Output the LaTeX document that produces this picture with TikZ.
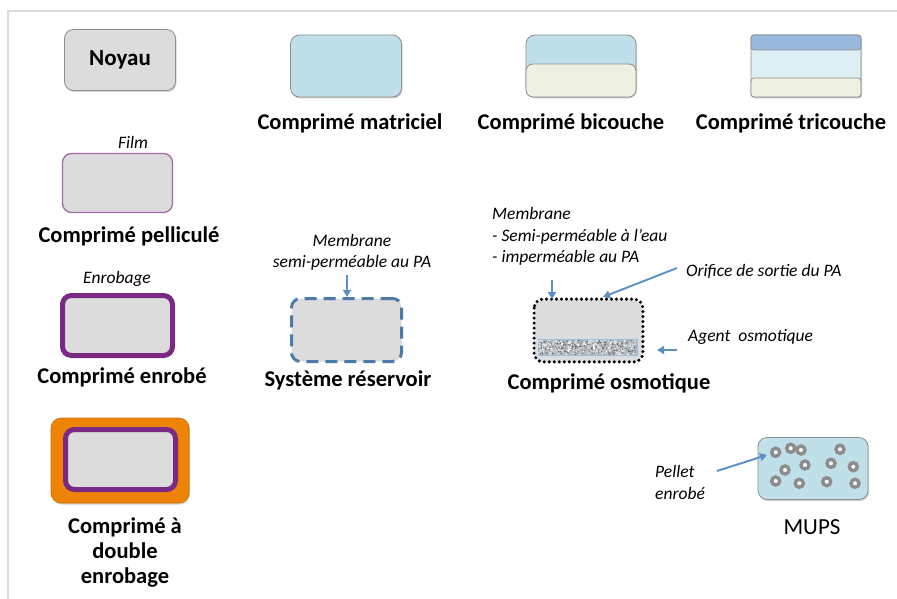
\documentclass[tikz,border=0pt]{standalone}
\usepackage{fontspec}
\setmainfont{Carlito}
\usetikzlibrary{arrows.meta,shadows}
\definecolor{coregray}{HTML}{DCDCDC}
\definecolor{edgegray}{HTML}{8E8E8E}
\definecolor{lblue}{HTML}{BFE0E9}
\definecolor{mblue}{HTML}{98B9DC}
\definecolor{pblue}{HTML}{DDEFF5}
\definecolor{cream}{HTML}{EEF0E1}
\definecolor{lpurple}{HTML}{A46AA8}
\definecolor{dpurple}{HTML}{7A2A85}
\definecolor{orng}{HTML}{EE8305}
\definecolor{dblue}{HTML}{4C7BAA}
\definecolor{arrblue}{HTML}{5D8FC7}
\definecolor{framegray}{HTML}{DADADA}
\definecolor{bandgray}{HTML}{B4B9BE}
\definecolor{ringgray}{HTML}{8C8C8C}
\begin{document}
\begin{tikzpicture}[x=1pt,y=-1pt,
  shad/.style={drop shadow={shadow xshift=1pt,shadow yshift=-1.5pt,opacity=0.3,fill=black!60}},
  tab/.style={rounded corners=9pt,inner sep=0pt,minimum width=110pt,minimum height=62pt,draw=edgegray,line width=0.8pt,fill=coregray},
  lab/.style={font=\fontsize{22.5}{25}\selectfont\bfseries,align=center,inner sep=0pt},
  ann/.style={font=\fontsize{17.5}{21.5}\selectfont\itshape,inner sep=0pt},
  arr/.style={draw=arrblue,line width=1.9pt,-{Triangle[length=7pt,width=8pt]}},
  pel/.style={circle,inner sep=0pt,minimum size=8pt,fill=white,draw=ringgray,line width=3.4pt}
]
\useasboundingbox (0,0) rectangle (897,599);
\fill[white] (0,0) rectangle (897,599);
\draw[framegray,line width=1.5pt] (8,599) -- (8,11) -- (897,11);

% Noyau
\node[tab,shad,minimum width=111pt,minimum height=61pt,font=\fontsize{23}{26}\selectfont\bfseries] (noyau) at (120,60) {Noyau};

% Comprime matriciel
\node[tab,shad,fill=lblue,minimum width=111pt,minimum height=62pt] (matr) at (346,66) {};
\node[lab] (matrl) at (350,123) {Comprimé matriciel};

% Comprime bicouche
\node[tab,shad,fill=lblue,minimum width=110pt,minimum height=62pt] (bic) at (581,66) {};
\node[tab,fill=cream,rounded corners=7pt,minimum width=110pt,minimum height=33pt] (bicb) at (581,80.5) {};
\node[lab] (bicl) at (571,123) {Comprimé bicouche};

% Comprime tricouche
\node[tab,shad,fill=pblue,rounded corners=3pt,minimum width=110pt,minimum height=62pt] (tri) at (806,66) {};
\node[tab,fill=mblue,rounded corners=3pt,minimum width=110pt,minimum height=15pt] (trit) at (806,42.5) {};
\node[tab,fill=cream,rounded corners=3pt,minimum width=110pt,minimum height=19pt] (trib) at (806,87.5) {};
\node[lab] (tril) at (791,123) {Comprimé tricouche};

% Comprime pellicule
\node[ann] (film) at (133,142) {Film};
\node[tab,draw=lpurple,line width=1.3pt,minimum width=110pt,minimum height=59pt] (pell) at (117.5,183) {};
\node[lab] (pelll) at (129,236) {Comprimé pelliculé};

% Comprime enrobe
\node[ann] (enrob) at (117,279) {Enrobage};
\node[tab,draw=dpurple,line width=5pt,minimum width=110pt,minimum height=60pt] (enr) at (117.5,325.5) {};
\node[lab] (enrl) at (122,377) {Comprimé enrobé};

% Double enrobage
\node[tab,shad,draw=orng!85!black,line width=0.6pt,fill=orng,rounded corners=10pt,minimum width=138pt,minimum height=85pt] (dblo) at (120,460.5) {};
\node[tab,draw=dpurple,line width=5pt,minimum width=110pt,minimum height=60pt] (dbl) at (120.5,459.5) {};
\node[lab] (dbll) at (125,553) {Comprimé à\\double\\enrobage};

% Systeme reservoir
\node[ann,align=center] (resmem) at (352,252.5) {Membrane\\semi-perméable au PA};
\node[tab,draw=dblue,line width=3pt,dash pattern=on 12pt off 7pt,minimum width=110pt,minimum height=63pt] (res) at (346.5,330) {};
\node[lab] (resl) at (348,380) {Système réservoir};
\coordinate (resa) at (347,275);
\draw[arr] (resa) -- (res.north -| resa);

% Comprime osmotique
\node[ann,align=left,anchor=west] (osmmem) at (492,236.5) {Membrane\\- Semi-perméable à l’eau\\- imperméable au PA};
\node[tab,draw=none,minimum width=108pt,minimum height=62pt] (osm) at (588.5,330.5) {};
\node[draw=arrblue!60,fill=bandgray,inner sep=0pt,minimum width=99pt,minimum height=16pt,line width=0.6pt] (band) at (587.5,347.5) {};
\pgfmathsetseed{11}
\foreach \i in {1,...,260}{
  \pgfmathsetmacro\rx{539+97*rnd}
  \pgfmathsetmacro\ry{340.5+14*rnd}
  \fill[white,opacity=0.75] (\rx,\ry) circle (0.9);
}
\foreach \i in {1,...,200}{
  \pgfmathsetmacro\rx{539+97*rnd}
  \pgfmathsetmacro\ry{340.5+14*rnd}
  \fill[gray!60!black,opacity=0.6] (\rx,\ry) circle (0.8);
}
\draw[black,line width=3.4pt,line cap=round,dash pattern=on 0pt off 5pt,rounded corners=9pt]
  (osm.north west) rectangle (osm.south east);
\node[ann,anchor=west] (orif) at (686,271) {Orifice de sortie du PA};
\node[ann,anchor=west] (agent) at (688,337) {Agent\ \ osmotique};
\node[lab] (osml) at (609,383) {Comprimé osmotique};
\coordinate (osma) at (552,280);
\coordinate (osmb) at (552,299);
\draw[arr] (osma) -- (osmb);
\coordinate (orifa) at (677,268);
\coordinate (orifb) at (603,297);
\draw[arr] (orifa) -- (orifb);
\coordinate (agenta) at (677,350);
\coordinate (agentb) at (657,350);
\draw[arr] (agenta) -- (agentb);

% MUPS
\node[tab,shad,fill=lblue,minimum width=110pt,minimum height=62pt] (mups) at (813,468.5) {};
\foreach \px/\py in {775.7/452.3, 790.7/448.3, 801/450, 840/449.3, 785/470, 805/465, 831/463.3, 853.3/466.7, 775.7/481, 799.3/483.3, 826.7/481.7, 855/483.3}{
  \node[pel] at (\px,\py) {};
}
\node[font=\fontsize{23}{26}\selectfont,inner sep=0pt] (mupsl) at (812,527) {MUPS};
\node[ann,align=left,anchor=west] (pellet) at (655,482.5) {Pellet\\enrobé};
\coordinate (pela) at (717,471);
\coordinate (pelb) at (767,455);
\draw[arr] (pela) -- (pelb);
\end{tikzpicture}
\end{document}
